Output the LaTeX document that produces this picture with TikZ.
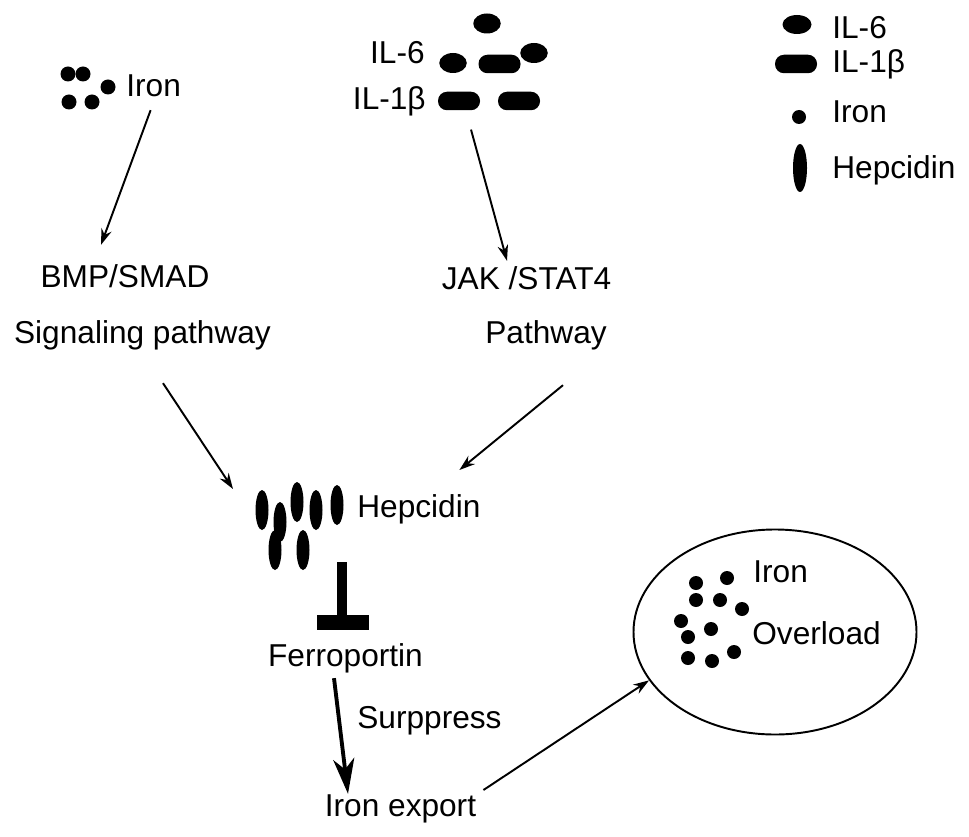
\documentclass[tikz,border=0pt]{standalone}
\usepackage{fontspec}
\setmainfont{Liberation Sans}
\usetikzlibrary{arrows.meta, shapes.geometric}

\begin{document}
\begin{tikzpicture}[font=\fontsize{18}{21}\selectfont, >=Stealth,
  lbl/.style={inner sep=0pt, text height=0.72em, text depth=0pt, yshift=-0.1cm},
  irondot/.style={circle, fill, inner sep=0pt, minimum size=0.3cm},
  ilsix/.style={ellipse, fill, inner sep=0pt, minimum width=0.55cm, minimum height=0.4cm},
  ilbeta/.style={rectangle, fill, inner sep=0pt, minimum width=0.84cm, minimum height=0.37cm, rounded corners=0.18cm},
  hepc/.style={ellipse, fill, inner sep=0pt, minimum width=0.26cm, minimum height=0.8cm},
  arr/.style={-{Stealth[length=9pt, width=6pt]}, line width=1.1pt}]
  \useasboundingbox (0,0) rectangle (19.38,-16.72);

  % iron source (left branch)
  \foreach \x/\y in {1.36/-1.48, 1.66/-1.48, 2.16/-1.74, 1.38/-2.04, 1.84/-2.04}
    \node[irondot] at (\x,\y) {};
  \node[lbl, anchor=west] (ironsrc) at (2.52,-1.70) {Iron};
  \node[lbl] (bmp) at (2.50,-5.52) {BMP/SMAD};
  \node[lbl] (signal) at (2.85,-6.65) {Signaling pathway};

  % cytokines (right branch)
  \node[ilsix] (c1) at (9.74,-0.47) {};
  \node[ilsix] (c2) at (9.06,-1.26) {};
  \node[ilsix] (c3) at (10.68,-1.06) {};
  \node[ilbeta] (r1) at (9.99,-1.28) {};
  \node[ilbeta] (r2) at (9.18,-2.02) {};
  \node[ilbeta] (r3) at (10.38,-2.02) {};
  \node[lbl, anchor=east] (ilsixlbl) at (8.50,-1.04) {IL-6};
  \node[lbl, anchor=east] (ilbetalbl) at (8.52,-1.96) {IL-1β};
  \node[lbl] (jak) at (10.53,-5.56) {JAK /STAT4};
  \node[lbl] (pathway) at (10.92,-6.64) {Pathway};

  % hepcidin cluster
  \foreach \x/\y [count=\i] in {5.24/-10.20, 5.60/-10.44, 5.94/-10.04, 6.32/-10.20, 6.74/-10.10, 5.50/-11.00, 6.06/-11.00}
    \node[hepc] (h\i) at (\x,\y) {};
  \node[lbl, anchor=west] (hep) at (7.14,-10.12) {Hepcidin};

  % inhibition bar
  \fill (6.74,-11.24) rectangle (6.94,-12.32);
  \fill (6.34,-12.30) rectangle (7.38,-12.60);

  \node[lbl] (ferro) at (6.91,-13.10) {Ferroportin};
  \node[lbl, anchor=west] (supp) at (7.14,-14.34) {Surppress};
  \node[lbl] (export) at (8.01,-16.10) {Iron export};

  % overload
  \node[ellipse, draw, line width=1.1pt, inner sep=0pt, minimum width=5.66cm, minimum height=4.1cm] (ovl) at (15.50,-12.64) {};
  \foreach \x/\y in {13.92/-11.66, 14.54/-11.56, 13.92/-12.00, 14.40/-12.00, 14.84/-12.18, 13.62/-12.42,
                     14.22/-12.58, 13.76/-12.74, 14.68/-13.04, 13.76/-13.16, 14.24/-13.22}
    \node[irondot, minimum size=0.28cm] at (\x,\y) {};
  \node[lbl, anchor=west] (ovliron) at (15.06,-11.42) {Iron};
  \node[lbl, anchor=west] (ovlload) at (15.04,-12.66) {Overload};

  % legend
  \node[ilsix, minimum width=0.58cm, minimum height=0.38cm] (kA) at (15.94,-0.49) {};
  \node[ilbeta] (kB) at (15.92,-1.28) {};
  \node[irondot, minimum size=0.28cm] (kC) at (15.98,-2.34) {};
  \node[hepc, minimum width=0.28cm, minimum height=0.96cm] (kD) at (16.00,-3.36) {};
  \node[lbl, anchor=west] at (16.64,-0.55) {IL-6};
  \node[lbl, anchor=west] at (16.64,-1.23) {IL-1β};
  \node[lbl, anchor=west] at (16.64,-2.22) {Iron};
  \node[lbl, anchor=west] at (16.64,-3.34) {Hepcidin};

  % connectors
  \draw[arr] ([xshift=-0.06cm, yshift=-0.27cm]ironsrc.south) -- ([xshift=-0.48cm, yshift=0.59cm]bmp.north);
  \draw[arr] ([xshift=0.24cm, yshift=-0.38cm]r2.south) -- ([xshift=-0.39cm, yshift=0.31cm]jak.north);
  \draw[arr] ([xshift=0.41cm, yshift=-0.78cm]signal.south) -- ([xshift=-0.58cm, yshift=0.42cm]h1.center);
  \draw[arr] ([xshift=0.34cm, yshift=-0.83cm]pathway.south) -- ([xshift=0.81cm, yshift=0.82cm]hep.center);
  \draw[-{Stealth[length=20pt, width=12pt, inset=6pt]}, line width=2.2pt]
    ([xshift=-0.23cm, yshift=-0.23cm]ferro.south) -- ([xshift=-1.05cm, yshift=0.19cm]export.north);
  \draw[arr] ([xshift=0.14cm, yshift=0.40cm]export.east) -- (ovl.201);
\end{tikzpicture}
\end{document}
